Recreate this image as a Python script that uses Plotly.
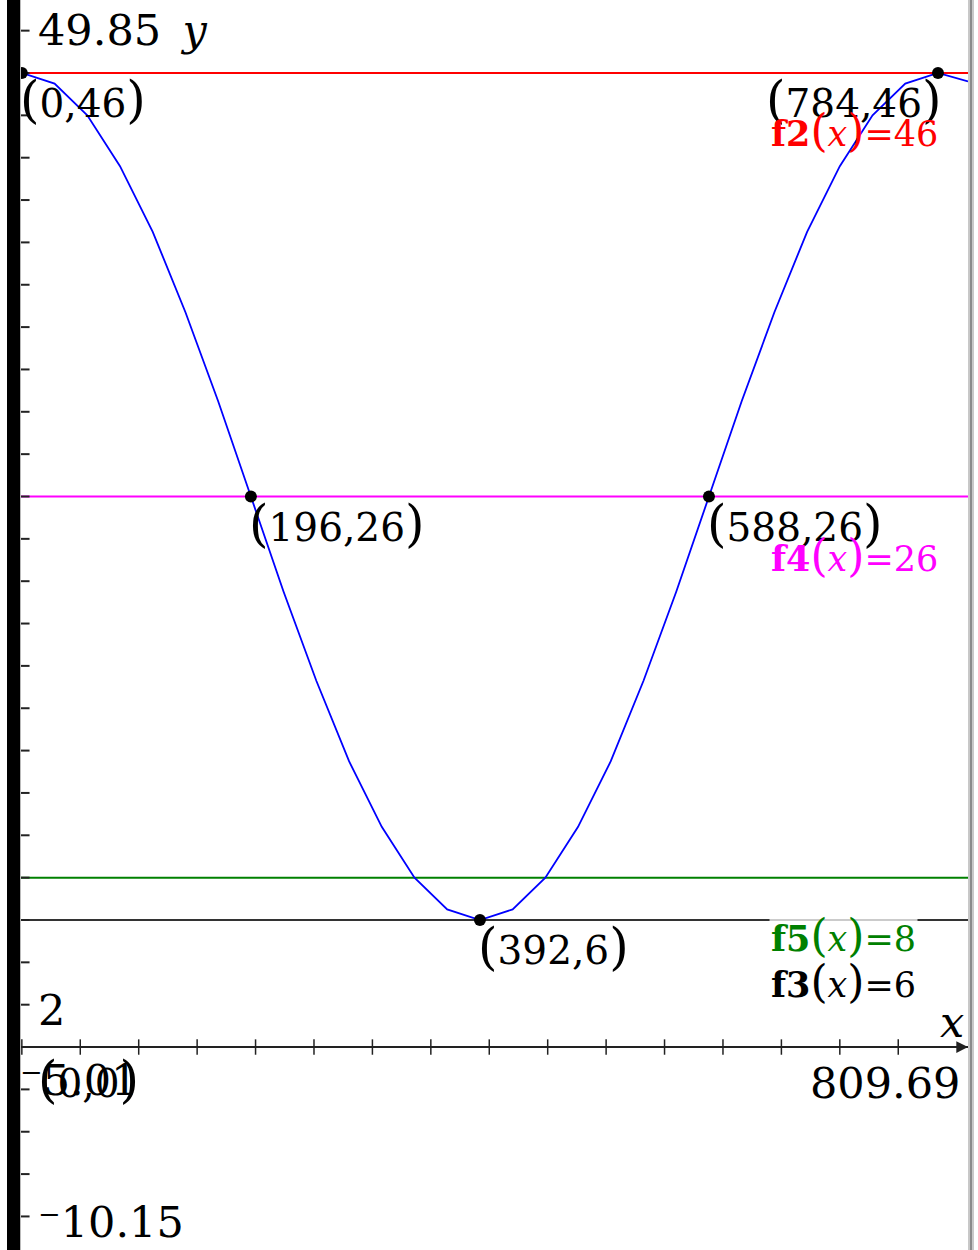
import plotly.graph_objects as go

# Graph window (x: xmin..xmax, y: ymin..ymax as labelled on the axes)
XMIN, XMAX = -5.01, 809.69
YMIN, YMAX = -10.15, 49.85

# f1: sampled values of the blue curve
curve_x = [-5.01, 0, 28, 56, 84, 112, 140, 168, 196, 224, 252, 280, 308, 336, 364,
           392, 420, 448, 476, 504, 532, 560, 588, 616, 644, 672, 700, 728, 756, 784, 809.69]
curve_y = [46.0, 46.0, 45.5, 44.0, 41.6, 38.5, 34.7, 30.5, 26.0, 21.5, 17.3, 13.5, 10.4, 8.0, 6.5,
           6.0, 6.5, 8.0, 10.4, 13.5, 17.3, 21.5, 26.0, 30.5, 34.7, 38.5, 41.6, 44.0, 45.5, 46.0, 45.6]

# horizontal reference functions
h_names = ["f2", "f4", "f5", "f3"]
h_values = [46, 26, 8, 6]
h_colors = ["#ff0000", "#ff00ff", "#008000", "#333333"]

# labelled points
pt_x = [0, 196, 392, 588, 784]
pt_y = [46, 26, 6, 26, 46]

# axis tick positions
x_ticks = [0, 50, 100, 150, 200, 250, 300, 350, 400, 450, 500, 550, 600, 650, 700, 750]
y_ticks = [-10, -8, -6, -4, -2, 2, 4, 6, 8, 10, 12, 14, 16, 18, 20, 22, 24, 26, 28, 30,
           32, 34, 36, 38, 40, 42, 44, 46, 48]

W, H = 978, 1250
L, R = 16, 10
PW = W - L - R
Y_VIEW = [-9.585, 49.4475]

FONT = "DejaVu Serif, Liberation Serif, serif"


def px(xp):
    return (xp - L) / PW


def py(yp):
    return 1 - yp / H


def paren(s, size):
    return (f"<span style='font-size:{size}px'>(</span>{s}"
            f"<span style='font-size:{size}px'>)</span>")


fig = go.Figure()

# horizontal lines
for v, c in zip(h_values, h_colors):
    fig.add_trace(go.Scatter(x=[XMIN, XMAX], y=[v, v], mode="lines",
                             line=dict(color=c, width=2), hoverinfo="skip"))

# x axis line and ticks
fig.add_trace(go.Scatter(x=[XMIN, XMAX], y=[0, 0], mode="lines",
                         line=dict(color="#222222", width=2), hoverinfo="skip"))
fig.add_trace(go.Scatter(x=x_ticks, y=[0] * len(x_ticks), mode="markers",
                         marker=dict(symbol="line-ns", size=11,
                                     line=dict(color="#222222", width=1.5)),
                         hoverinfo="skip"))
fig.add_trace(go.Scatter(x=[0] * len(y_ticks), y=y_ticks, mode="markers",
                         marker=dict(symbol="line-ew", size=11,
                                     line=dict(color="#222222", width=2)),
                         hoverinfo="skip", cliponaxis=False))

# the cosine curve
fig.add_trace(go.Scatter(x=curve_x, y=curve_y, mode="lines",
                         line=dict(color="#0000ff", width=1.8), hoverinfo="skip"))

# points
fig.add_trace(go.Scatter(x=pt_x, y=pt_y, mode="markers",
                         marker=dict(symbol="circle", size=12, color="black"),
                         hoverinfo="skip", cliponaxis=False))

annotations = []

# point coordinate labels
for x, y in zip(pt_x, pt_y):
    right = x == max(pt_x)
    annotations.append(dict(
        x=x, y=y, xref="x", yref="y",
        text=paren(f"{x},{y}", 50),
        showarrow=False,
        xanchor="right" if right else "left", yanchor="top",
        xshift=6 if right else -4, yshift=4,
        font=dict(family=FONT, size=39, color="black")))

# origin label, partly hidden under the window label
annotations.append(dict(
    x=0, y=0, xref="x", yref="y", text=paren("0,0", 50), showarrow=False,
    xanchor="left", yanchor="top", xshift=14, yshift=-2,
    font=dict(family=FONT, size=39, color="black")))

# function labels at the right edge
lab_shift = {"f2": -30, "f4": -31, "f5": -30, "f3": -34}
lab_right = {"f2": 940, "f4": 940, "f5": 918, "f3": 918}
for name, v, c in zip(h_names, h_values, h_colors):
    annotations.append(dict(
        x=px(lab_right[name]), y=v, xref="paper", yref="y",
        text=f"<b>{name}</b>" + paren("<i>x</i>", 44) + f"={v}",
        showarrow=False, xanchor="right", yanchor="top", yshift=lab_shift[name],
        bgcolor="rgba(255,255,255,0.75)" if name == "f5" else None,
        font=dict(family=FONT, size=35, color=c if c != "#333333" else "black")))

# window extents and axis names
axis_labels = [
    ("49.85\u2002<i>y</i>", 36, 30, "left"),
    ("2", 36, 1010, "left"),
    ("\u207b10.15", 36, 1222, "left"),
    ("\u207b5.01", 18, 1080, "left"),
    ("809.69", 962, 1083, "right"),
    ("<i>x</i>", 938, 1022, "left"),
]
for t, xp, yp, anc in axis_labels:
    annotations.append(dict(
        x=px(xp), y=py(yp), xref="paper", yref="paper", text=t, showarrow=False,
        xanchor=anc, yanchor="middle", font=dict(family=FONT, size=43, color="black")))

# axis arrows
annotations.append(dict(x=XMAX, y=0, xref="x", yref="y", ax=-30, ay=0, text="",
                        showarrow=True, arrowhead=2, arrowsize=1.3, arrowwidth=1.8,
                        arrowcolor="#222222"))
annotations.append(dict(x=0, y=YMAX, xref="x", yref="y", ax=0, ay=30, text="",
                        showarrow=True, arrowhead=2, arrowsize=1.3, arrowwidth=1.8,
                        arrowcolor="#222222"))

shapes = [
    # heavy bar down the left side of the screen
    dict(type="rect", xref="paper", yref="paper", x0=px(7), x1=px(20), y0=0, y1=1,
         fillcolor="black", line=dict(width=0), layer="above"),
    dict(type="line", xref="paper", yref="paper", x0=px(20.5), x1=px(20.5), y0=0, y1=1,
         line=dict(color="#bbbbbb", width=1), layer="above"),
    # right frame edge
    dict(type="rect", xref="paper", yref="paper", x0=px(968), x1=px(974), y0=0, y1=1,
         fillcolor="#c8c8c8", line=dict(width=0), layer="above"),
    dict(type="line", xref="paper", yref="paper", x0=px(971), x1=px(971), y0=0, y1=1,
         line=dict(color="#777777", width=1.5), layer="above"),
]

fig.update_layout(
    width=W, height=H,
    margin=dict(l=L, r=R, t=0, b=0),
    paper_bgcolor="white", plot_bgcolor="white",
    showlegend=False,
    xaxis=dict(range=[XMIN, XMAX], visible=False),
    yaxis=dict(range=Y_VIEW, visible=False),
    annotations=annotations,
    shapes=shapes,
)

fig.write_html("out.html")
